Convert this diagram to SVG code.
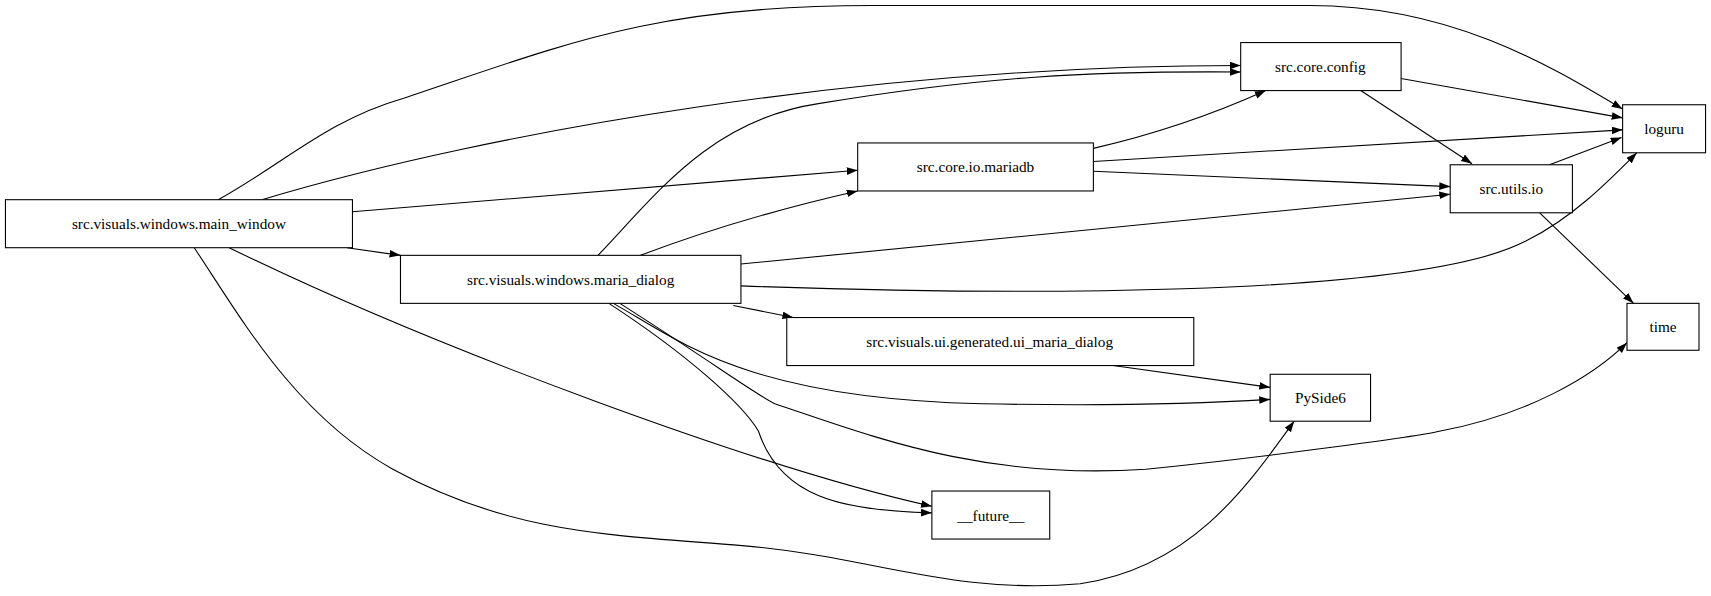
<svg xmlns="http://www.w3.org/2000/svg" width="1711" height="596" viewBox="0 0 1711 596">
<style>
.n rect{fill:#fff;stroke:#000;stroke-width:1}
.n text{font-family:"Liberation Serif",serif;font-size:14px;text-anchor:middle;dominant-baseline:central;fill:#000}
#edges path{fill:none;stroke:#000;stroke-width:1;marker-end:url(#a)}
</style>
<defs><marker id="a" markerUnits="userSpaceOnUse" markerWidth="11" markerHeight="8" refX="10" refY="3.5" orient="auto"><path d="M0,0 L10,3.5 L0,7 z" fill="#000"/></marker></defs>
<rect width="1711" height="596" fill="#fff"/>
<g transform="scale(1.0912)">
<g id="edges">
<path d="M200,183 C260,150 300,110 370,90 C520,40 600,5 800,5 L1200,5 C1330,5 1420,60 1487,100"/>
<path d="M240,183 C450,120 800,60 1137,60"/>
<path d="M323,194 L786,156"/>
<path d="M318,227 L367,234"/>
<path d="M210,227 C400,320 700,430 854,464"/>
<path d="M178,227 C220,290 270,380 360,430 C470,490 560,490 680,500 C800,510 870,545 990,535 C1090,520 1140,450 1186,386"/>
<path d="M548,234 C600,180 650,110 750,95 C900,70 1000,65 1137,66"/>
<path d="M587,234 C650,210 720,190 786,175"/>
<path d="M679,242 L1329,178"/>
<path d="M679,262 C900,270 1300,275 1400,220 C1440,200 1470,170 1500,140"/>
<path d="M672,280 L727,291"/>
<path d="M562,278 C620,310 680,365 900,370 C1000,372 1100,370 1164,366"/>
<path d="M568,278 C650,330 690,360 710,370 C800,400 900,440 1050,430 C1150,420 1300,400 1320,395 C1400,380 1460,345 1491,314"/>
<path d="M558,278 C630,325 680,370 695,395 C715,455 770,468 854,470"/>
<path d="M1002,136 C1050,125 1100,110 1160,83"/>
<path d="M1002,148 L1487,119"/>
<path d="M1002,157 L1329,171"/>
<path d="M1284,72 L1487,108"/>
<path d="M1247,83 L1349,150"/>
<path d="M1420,151 L1486,126"/>
<path d="M1411,195 L1497,278"/>
<path d="M1020,335 L1164,355"/>
</g>
<g id="main_window" class="n"><rect x="5" y="183" width="318" height="44"/><text x="164" y="205">src.visuals.windows.main_window</text></g>
<g id="maria_dialog" class="n"><rect x="367" y="234" width="312" height="44"/><text x="523" y="256">src.visuals.windows.maria_dialog</text></g>
<g id="mariadb" class="n"><rect x="786" y="131" width="216" height="44"/><text x="894" y="153">src.core.io.mariadb</text></g>
<g id="config" class="n"><rect x="1137" y="39" width="147" height="44"/><text x="1210" y="61">src.core.config</text></g>
<g id="utils_io" class="n"><rect x="1329" y="151" width="112" height="44"/><text x="1385" y="173">src.utils.io</text></g>
<g id="loguru" class="n"><rect x="1487" y="96" width="76" height="44"/><text x="1525" y="118">loguru</text></g>
<g id="time" class="n"><rect x="1491" y="278" width="66" height="43"/><text x="1524" y="299">time</text></g>
<g id="ui_maria_dialog" class="n"><rect x="721" y="291" width="373" height="44"/><text x="907" y="313">src.visuals.ui.generated.ui_maria_dialog</text></g>
<g id="PySide6" class="n"><rect x="1164" y="343" width="92" height="43"/><text x="1210" y="364">PySide6</text></g>
<g id="future" class="n"><rect x="854" y="450" width="108" height="44"/><text x="908" y="472">__future__</text></g>
</g>
</svg>
